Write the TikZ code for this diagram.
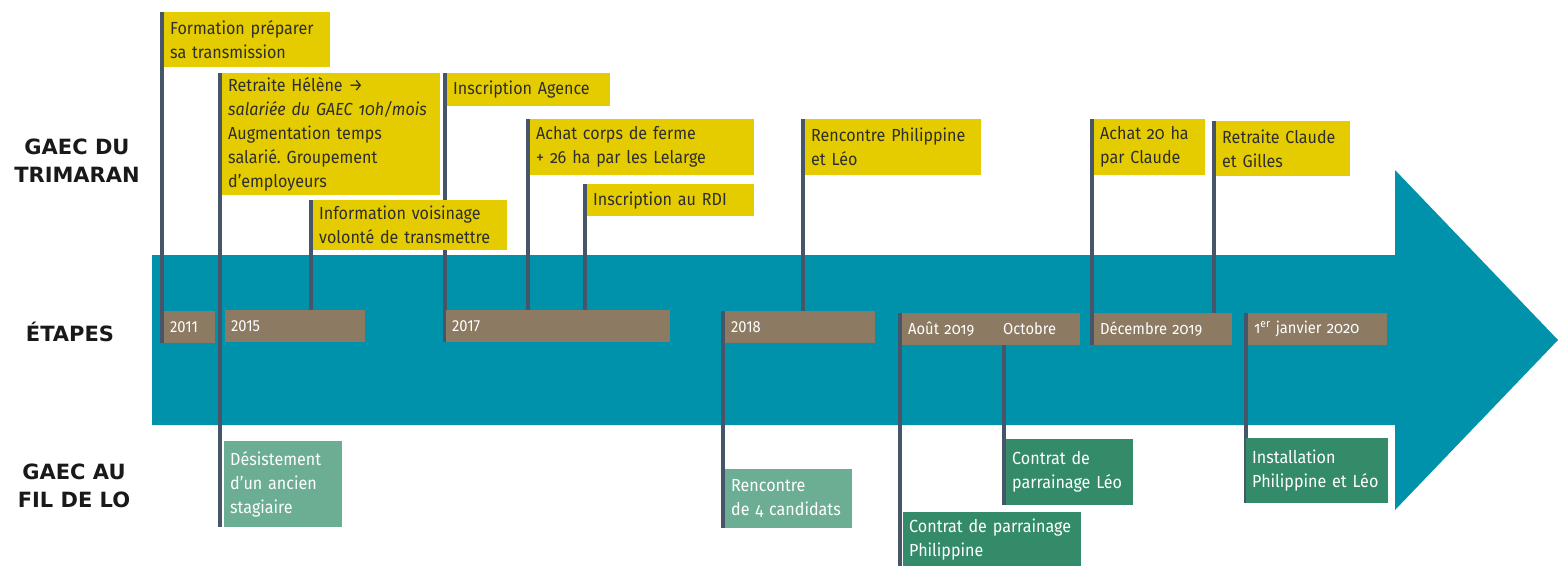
\documentclass[tikz,border=0pt]{standalone}
\usepackage{fontspec}
\setmainfont{Fira Sans}[Numbers=OldStyle, FakeStretch=0.92]
\newfontfamily\heavyfont{DejaVu Sans}
\usepackage{tikz}
\usetikzlibrary{positioning, calc}
\definecolor{arrowteal}{HTML}{0092AA}
\definecolor{flagyellow}{HTML}{E5CC00}
\definecolor{datebrown}{HTML}{8C7A62}
\definecolor{lightgreen}{HTML}{6CAE94}
\definecolor{darkgreen}{HTML}{348B69}
\definecolor{polegrey}{HTML}{465568}
\definecolor{flagtext}{HTML}{2E2E2E}
\pgfdeclarelayer{background}
\pgfsetlayers{background,main}
\frenchspacing
\tikzset{
  box/.style={
    anchor=north west,
    inner xsep=6pt,
    inner ysep=0pt,
    align=left,
    font=\fontsize{17.5}{24}\selectfont},
  flag/.style={box, fill=flagyellow, text=flagtext},
  datebox/.style={box, fill=datebrown, text=white, minimum height=32pt,
    font=\fontsize{16}{18}\selectfont},
  lightflag/.style={box, fill=lightgreen, text=white},
  darkflag/.style={box, fill=darkgreen, text=white},
  pole/.style={draw=polegrey, line width=4pt},
  side/.style={font=\heavyfont\bfseries\fontsize{21}{28}\selectfont, align=center, text=black!90}
  }

\begin{document}
\begin{tikzpicture}[x=1pt, y=-1pt]
    \useasboundingbox (0,0) rectangle (1558,565);
    \node[side] (gaec1) at (77,161) {GAEC DU\\TRIMARAN};
    \node[side] (etapes) at (70,332) {ÉTAPES};
    \node[side] (gaec2) at (74,486) {GAEC AU\\FIL DE LO};
    % dates
    \node[datebox, text width=39pt] (d2011) at (164,311) {\addfontfeature{Numbers=Lining}2011};
    \node[datebox, text width=128pt] (d2015) at (225,310) {\addfontfeature{Numbers=Lining}2015};
    \node[datebox, text width=212pt] (d2017) at (446,310) {\addfontfeature{Numbers=Lining}2017};
    \node[datebox, text width=138pt] (d2018) at (725,311) {\addfontfeature{Numbers=Lining}2018};
    \node[datebox, text width=166pt] (d2019) at (902,313) {Août 2019};
    \node[anchor=west, inner sep=0pt, text=white, font=\fontsize{16}{18}\selectfont]
      (oct) at (1003,329) {Octobre};
    \node[datebox, text width=126pt] (ddec) at (1094,313) {Décembre 2019};
    \node[datebox, text width=127pt] (djan) at (1248,313) {1\textsuperscript{er} janvier 2020};
    % GAEC du Trimaran
    \node[flag, text width=154pt, minimum height=55pt] (f1) at (164,12) {Formation préparer\\sa transmission};
    \node[flag, text width=206pt, minimum height=122pt] (f2) at (222,73)
      {Retraite Hélène →\\\textit{salariée du GAEC 10h/mois}\\Augmentation temps\\salarié. Groupement\\d’employeurs};
    \node[flag, text width=151pt, minimum height=33pt] (f3) at (447,73) {Inscription Agence};
    \node[flag, text width=182pt, minimum height=50pt] (f4) at (313,200) {Information voisinage\\volonté de transmettre};
    \node[flag, text width=212pt, minimum height=56pt] (f5) at (530,119) {Achat corps de ferme\\+ 26 ha par les Lelarge};
    \node[flag, text width=155pt, minimum height=32pt] (f6) at (587,184) {Inscription au RDI};
    \node[flag, text width=164pt, minimum height=56pt] (f7) at (805,119) {Rencontre Philippine\\et Léo};
    \node[flag, text width=99pt, minimum height=56pt] (f8) at (1094,119) {Achat 20 ha\\par Claude};
    \node[flag, text width=122pt, minimum height=55pt] (f9) at (1216,121) {Retraite Claude\\et Gilles};
    % GAEC au fil de Lo
    \node[lightflag, text width=106pt, minimum height=86pt] (b1) at (224,441) {Désistement\\d’un ancien\\stagiaire};
    \node[lightflag, text width=115pt, minimum height=59pt] (b2) at (725,469) {Rencontre\\de 4 candidats};
    \node[darkflag, text width=115pt, minimum height=66pt] (b3) at (1006,439) {Contrat de\\parrainage Léo};
    \node[darkflag, text width=166pt, minimum height=55pt] (b4) at (903,512) {Contrat de parrainage\\Philippine};
    \node[darkflag, text width=130pt, minimum height=65pt] (b5) at (1246,438) {Installation\\Philippine et Léo};
    \begin{pgfonlayer}{background}
    % the arrow
    \fill[arrowteal] (152,255) -- (1395,255) -- (1395,170) -- (1558,340)
      -- (1395,510) -- (1395,425) -- (152,425) -- cycle;
    % poles
    \draw[pole] ([xshift=-2pt]f1.north west) -- ([xshift=-2pt]f1.north west |- d2011.south);
    \draw[pole] ([xshift=-2pt]f2.north west) -- ([xshift=-2pt]f2.north west |- b1.south);
    \draw[pole] ([xshift=-2pt]f4.north west) -- ([xshift=-2pt]f4.north west |- d2015.north);
    \draw[pole] ([xshift=-2pt]f3.north west) -- ([xshift=-2pt]f3.north west |- d2017.south);
    \draw[pole] ([xshift=-2pt]f5.north west) -- ([xshift=-2pt]f5.north west |- d2017.north);
    \draw[pole] ([xshift=-2pt]f6.north west) -- ([xshift=-2pt]f6.north west |- d2017.north);
    \draw[pole] ([xshift=-2pt]d2018.north west) -- ([xshift=-2pt]d2018.north west |- b2.south);
    \draw[pole] ([xshift=-2pt]f7.north west) -- ([xshift=-2pt]f7.north west |- d2018.north);
    \draw[pole] ([xshift=-2pt]d2019.north west) -- ([xshift=-2pt]d2019.north west |- b4.south);
    \draw[pole] ([xshift=-2pt]b3.south west) -- ([xshift=-2pt]b3.south west |- d2019.south);
    \draw[pole] ([xshift=-2pt]f8.north west) -- ([xshift=-2pt]f8.north west |- ddec.south);
    \draw[pole] ([xshift=-2pt]f9.north west) -- ([xshift=-2pt]f9.north west |- ddec.north);
    \draw[pole] ([xshift=-2pt]djan.north west) -- ([xshift=-2pt]djan.north west |- b5.south);
    \end{pgfonlayer}
\end{tikzpicture}
\end{document}
